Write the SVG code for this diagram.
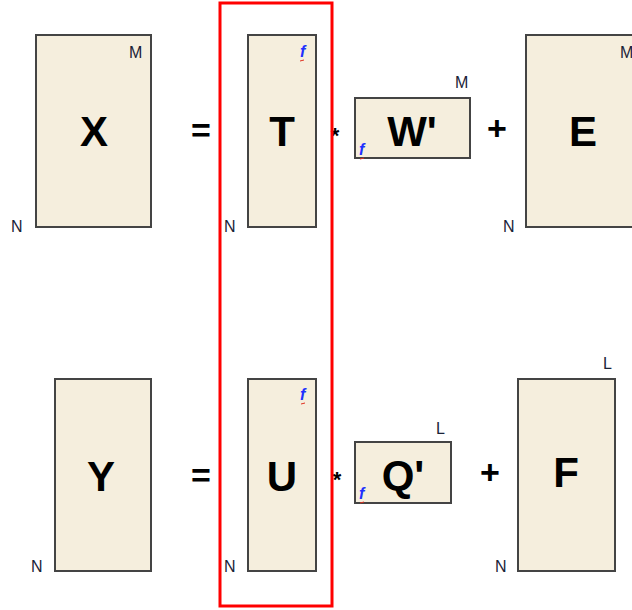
<svg xmlns="http://www.w3.org/2000/svg" width="632" height="610" viewBox="0 0 632 610">
<style>
.box{fill:#f5eedd;stroke:#444;stroke-width:2}
.big{font-family:"Liberation Sans",Arial,sans-serif;font-weight:bold;font-size:42px;fill:#000;text-anchor:middle}
.dim{font-family:"Liberation Sans",Arial,sans-serif;font-size:16px;fill:#1a2238}
.op{font-family:"Liberation Sans",Arial,sans-serif;font-weight:bold;font-size:34px;fill:#000;text-anchor:middle}
.f{font-family:"Liberation Sans",Arial,sans-serif;font-style:italic;font-weight:bold;font-size:16px;fill:#2030ff}
.sq{stroke:#e03020;stroke-width:1;fill:none}
</style>
<rect width="632" height="610" fill="#fff"/>
<g id="X"><rect class="box" x="36" y="35" width="115" height="192"/><text class="big" x="94" y="146">X</text><text class="dim" x="129" y="58">M</text><text class="dim" x="11" y="232">N</text></g>
<text class="op" x="201" y="142">=</text>
<g id="T"><rect class="box" x="248" y="35" width="68" height="192"/><text class="big" x="282" y="146">T</text><text class="f" x="300" y="57">f</text><path class="sq" d="M300 61 l4 -1"/><text class="dim" x="224" y="232">N</text></g>
<text class="op" x="335" y="143" style="font-size:22px">*</text>
<g id="W"><rect class="box" x="355" y="98" width="115" height="60"/><text class="big" x="412" y="146">W'</text><text class="dim" x="455" y="88">M</text><text class="f" x="359" y="155">f</text><path class="sq" d="M360 159 l4 -1"/></g>
<text class="op" x="497" y="140">+</text>
<g id="E"><rect class="box" x="526" y="35" width="110" height="192"/><text class="big" x="583" y="146">E</text><text class="dim" x="620" y="58">M</text><text class="dim" x="503" y="232">N</text></g>

<g id="Y"><rect class="box" x="55" y="379" width="96" height="192"/><text class="big" x="101" y="491">Y</text><text class="dim" x="31" y="572">N</text></g>
<text class="op" x="201" y="487">=</text>
<g id="U"><rect class="box" x="248" y="379" width="68" height="192"/><text class="big" x="282" y="491">U</text><text class="f" x="300" y="400">f</text><path class="sq" d="M301 404 l4 -1"/><text class="dim" x="224" y="572">N</text></g>
<text class="op" x="337" y="487" style="font-size:22px">*</text>
<g id="Q"><rect class="box" x="355" y="442" width="96" height="61"/><text class="big" x="403" y="490">Q'</text><text class="dim" x="436" y="434">L</text><text class="f" x="359" y="499">f</text><path class="sq" d="M360 503 l4 -1"/></g>
<text class="op" x="490" y="484">+</text>
<g id="F"><rect class="box" x="518" y="379" width="97" height="192"/><text class="big" x="566" y="487">F</text><text class="dim" x="603" y="369">L</text><text class="dim" x="495" y="572">N</text></g>

<g id="highlight"><rect x="220" y="3" width="112" height="603" fill="none" stroke="#ff0000" stroke-width="3"/></g>
</svg>
